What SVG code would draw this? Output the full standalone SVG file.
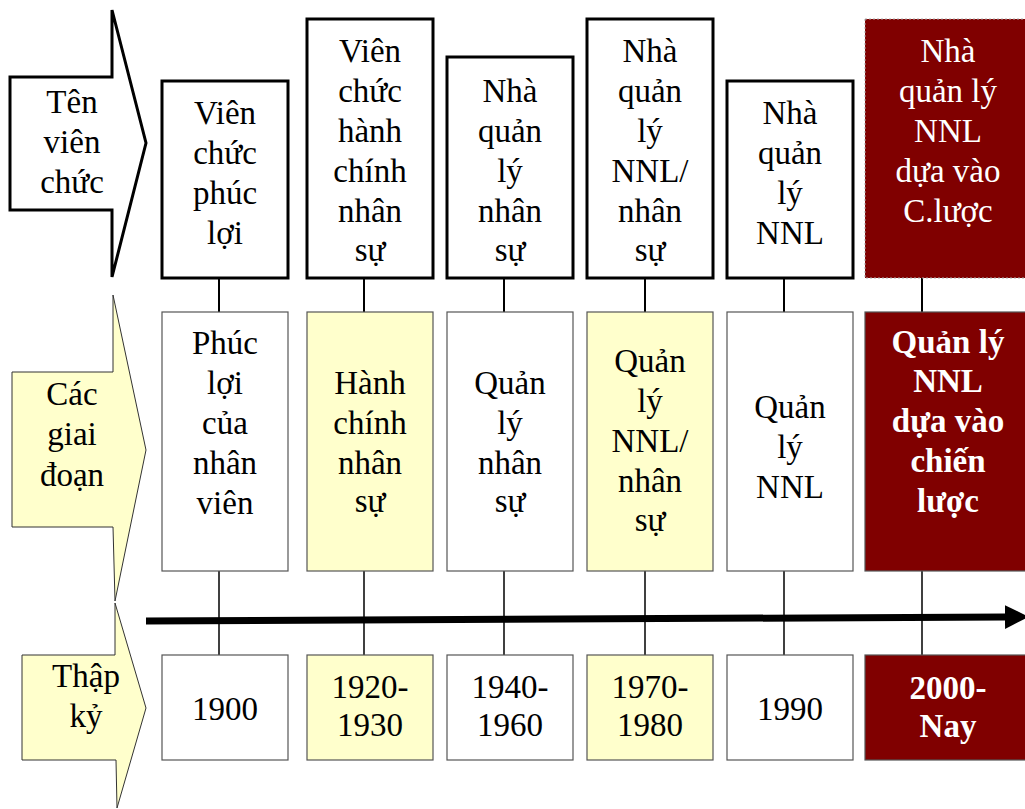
<svg xmlns="http://www.w3.org/2000/svg" width="1025" height="809" viewBox="0 0 1025 809" font-family="'Liberation Serif', 'Times New Roman', serif">
<style>
text{font-family:'Liberation Serif','Times New Roman',serif;font-size:33px;text-anchor:middle;fill:#000}
.w{fill:#fff}
.b{font-weight:bold;fill:#fff}
.top{fill:#fff;stroke:#000;stroke-width:3}
.red{fill:#800000}
.cell{stroke:#555;stroke-width:1.2}
.wh{fill:#fff}
.ye{fill:#FFFFCC}
.conn{stroke:#000;fill:none}
</style>
<defs>
<marker id="ah" markerWidth="3.4" markerHeight="3.4" refX="0" refY="1.7" orient="auto" markerUnits="strokeWidth"><path d="M0,0 L3.4,1.7 L0,3.4 Z" fill="#000"/></marker>
</defs>
<g id="connectors">
<g class="conn" stroke-width="2">
<line x1="219" y1="278" x2="219" y2="312"/>
<line x1="364" y1="278" x2="364" y2="312"/>
<line x1="504" y1="278" x2="504" y2="312"/>
<line x1="645" y1="278" x2="645" y2="312"/>
<line x1="784" y1="278" x2="784" y2="312"/>
<line x1="922" y1="278" x2="922" y2="312"/>
</g>
<g class="conn" stroke-width="1.5">
<line x1="219" y1="571" x2="219" y2="655"/>
<line x1="364" y1="571" x2="364" y2="655"/>
<line x1="504" y1="571" x2="504" y2="655"/>
<line x1="645" y1="571" x2="645" y2="655"/>
<line x1="784" y1="571" x2="784" y2="655"/>
<line x1="922" y1="571" x2="922" y2="655"/>
</g>
<line x1="146" y1="621" x2="1005" y2="617" stroke="#000" stroke-width="7" marker-end="url(#ah)"/>
</g>
<g id="label-ten-vien-chuc">
<polygon points="10,77 112,77 112,10 146,143 112,277 112,210 10,210" fill="#fff" stroke="#000" stroke-width="3"/>
<text x="72" y="113">Tên</text><text x="72" y="153">viên</text><text x="72" y="193">chức</text>
</g>
<g id="label-cac-giai-doan">
<polygon points="12,372 113,372 113,295 146,450 115,601 113,527 12,527" fill="#FFFFCC" stroke="#333" stroke-width="1"/>
<text x="72" y="405">Các</text><text x="72" y="445">giai</text><text x="72" y="486">đoạn</text>
</g>
<g id="label-thap-ky">
<polygon points="22,655 115,655 115,603 146,708 117,808 116,760 22,760" fill="#FFFFCC" stroke="#333" stroke-width="1"/>
<text x="86" y="687">Thập</text><text x="86" y="727">kỷ</text>
</g>
<g id="title-1"><rect class="top" x="162" y="81" width="126" height="197"/>
<text x="225" y="124">Viên</text><text x="225" y="164">chức</text><text x="225" y="204">phúc</text><text x="225" y="244">lợi</text></g>
<g id="title-2"><rect class="top" x="307" y="19" width="126" height="259"/>
<text x="370" y="62">Viên</text><text x="370" y="102">chức</text><text x="370" y="142">hành</text><text x="370" y="182">chính</text><text x="370" y="222">nhân</text><text x="370" y="261">sự</text></g>
<g id="title-3"><rect class="top" x="447" y="57" width="126" height="221"/>
<text x="510" y="102">Nhà</text><text x="510" y="142">quản</text><text x="510" y="182">lý</text><text x="510" y="222">nhân</text><text x="510" y="261">sự</text></g>
<g id="title-4"><rect class="top" x="587" y="19" width="126" height="259"/>
<text x="650" y="62">Nhà</text><text x="650" y="102">quản</text><text x="650" y="142">lý</text><text x="650" y="182">NNL/</text><text x="650" y="222">nhân</text><text x="650" y="261">sự</text></g>
<g id="title-5"><rect class="top" x="727" y="81" width="126" height="197"/>
<text x="790" y="124">Nhà</text><text x="790" y="164">quản</text><text x="790" y="204">lý</text><text x="790" y="244">NNL</text></g>
<g id="title-6"><rect class="red" x="865" y="19" width="166" height="259" stroke="#aaa" stroke-width="1" stroke-dasharray="2,2"/>
<text class="w" x="948" y="62">Nhà</text><text class="w" x="948" y="102">quản lý</text><text class="w" x="948" y="142">NNL</text><text class="w" x="948" y="182">dựa vào</text><text class="w" x="948" y="222">C.lược</text></g>
<g id="stage-1"><rect class="cell wh" x="162" y="312" width="126" height="259"/>
<text x="225" y="354">Phúc</text><text x="225" y="394">lợi</text><text x="225" y="434">của</text><text x="225" y="474">nhân</text><text x="225" y="514">viên</text></g>
<g id="stage-2"><rect class="cell ye" x="307" y="312" width="126" height="259"/>
<text x="370" y="394">Hành</text><text x="370" y="434">chính</text><text x="370" y="474">nhân</text><text x="370" y="512">sự</text></g>
<g id="stage-3"><rect class="cell wh" x="447" y="312" width="126" height="259"/>
<text x="510" y="394">Quản</text><text x="510" y="434">lý</text><text x="510" y="474">nhân</text><text x="510" y="512">sự</text></g>
<g id="stage-4"><rect class="cell ye" x="587" y="312" width="126" height="259"/>
<text x="650" y="372">Quản</text><text x="650" y="412">lý</text><text x="650" y="452">NNL/</text><text x="650" y="492">nhân</text><text x="650" y="531">sự</text></g>
<g id="stage-5"><rect class="cell wh" x="727" y="312" width="126" height="259"/>
<text x="790" y="418">Quản</text><text x="790" y="458">lý</text><text x="790" y="498">NNL</text></g>
<g id="stage-6"><rect class="cell red" x="865" y="312" width="166" height="259"/>
<text class="b" x="948" y="353">Quản lý</text><text class="b" x="948" y="392">NNL</text><text class="b" x="948" y="432">dựa vào</text><text class="b" x="948" y="472">chiến</text><text class="b" x="948" y="512">lược</text></g>
<g id="decade-1"><rect class="cell wh" x="162" y="655" width="126" height="105"/>
<text x="225" y="720">1900</text></g>
<g id="decade-2"><rect class="cell ye" x="307" y="655" width="126" height="105"/>
<text x="370" y="698">1920-</text><text x="370" y="736">1930</text></g>
<g id="decade-3"><rect class="cell wh" x="447" y="655" width="126" height="105"/>
<text x="510" y="698">1940-</text><text x="510" y="736">1960</text></g>
<g id="decade-4"><rect class="cell ye" x="587" y="655" width="126" height="105"/>
<text x="650" y="698">1970-</text><text x="650" y="736">1980</text></g>
<g id="decade-5"><rect class="cell wh" x="727" y="655" width="126" height="105"/>
<text x="790" y="720">1990</text></g>
<g id="decade-6"><rect class="cell red" x="865" y="655" width="166" height="105"/>
<text class="b" x="948" y="699">2000-</text><text class="b" x="948" y="737">Nay</text></g>
</svg>
